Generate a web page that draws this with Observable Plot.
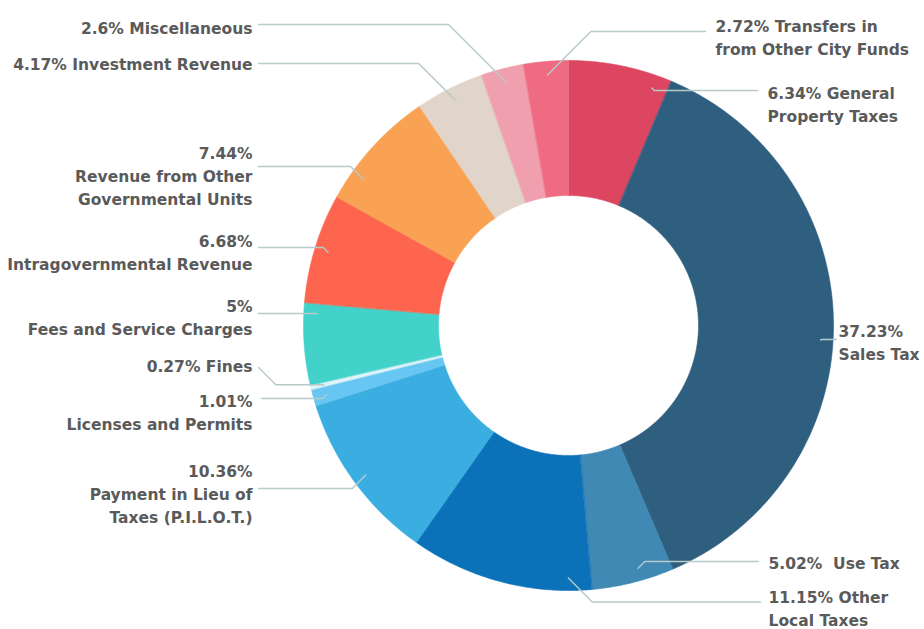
<!DOCTYPE html>
<html><head><meta charset="utf-8">
<script src="https://cdn.jsdelivr.net/npm/d3@7"></script>
<script src="https://cdn.jsdelivr.net/npm/@observablehq/plot@0.6"></script>
<style>body{margin:0;background:#fff;overflow:hidden}</style>
</head><body><div id="chart"></div>
<script>
// ---- data ----
const categories = ["General Property Taxes","Sales Tax","Use Tax","Other Local Taxes","Payment in Lieu of Taxes (P.I.L.O.T.)","Licenses and Permits","Fines","Fees and Service Charges","Intragovernmental Revenue","Revenue from Other Governmental Units","Investment Revenue","Miscellaneous","Transfers in from Other City Funds"];
const shares = [6.34, 37.23, 5.02, 11.15, 10.36, 1.01, 0.27, 5, 6.68, 7.44, 4.17, 2.6, 2.72];
const labelTexts = ["6.34% General\nProperty Taxes","37.23%\nSales Tax","5.02%  Use Tax","11.15% Other\nLocal Taxes","10.36%\nPayment in Lieu of\nTaxes (P.I.L.O.T.)","1.01%\nLicenses and Permits","0.27% Fines","5%\nFees and Service Charges","6.68%\nIntragovernmental Revenue","7.44%\nRevenue from Other\nGovernmental Units","4.17% Investment Revenue","2.6% Miscellaneous","2.72% Transfers in\nfrom Other City Funds"];
const colors = ["#dc4660","#2f5f7f","#3f89b4","#0b72b9","#3aaee0","#67c6f2","#dff3fa","#42d2c9","#fe654f","#f9a253","#e1d5cb","#ef9fae","#ef6b82"];

// ---- layout (label placement) ----
const W = 924, H = 629;
const cx = 568.5, cy = 325.5, rInner = 130, rOuter = 265, rAnchor = 252;
const layout = [
  {side:"right", tx:767, ty:82,  lx:757, ly:90,  frac:0.84},
  {side:"right", tx:838, ty:320, lx:836, ly:339, frac:0.525},
  {side:"right", tx:768, ty:552, lx:758, ly:561, frac:0.4},
  {side:"right", tx:768, ty:586, lx:760, ly:601.5, frac:0.13},
  {side:"left",  tx:252, ty:460, lx:258, ly:488, frac:0.5},
  {side:"left",  tx:252, ty:390, lx:261, ly:398, frac:0.5},
  {side:"left",  tx:252, ty:355, lx:258, ly:367, frac:0.5, diagFirst:true},
  {side:"left",  tx:252, ty:295, lx:258, ly:313, frac:0.87},
  {side:"left",  tx:252, ty:230, lx:258, ly:247, frac:0.5},
  {side:"left",  tx:252, ty:142, lx:258, ly:166, frac:0.24},
  {side:"left",  tx:252, ty:53,  lx:258, ly:63,  frac:0.5},
  {side:"left",  tx:252, ty:17,  lx:258, ly:24,  frac:0.5},
  {side:"right", tx:715, ty:15,  lx:705, ly:31,  frac:0.5}
];

// ---- derived geometry ----
const total = d3.sum(shares);
let acc = 0;
const slices = shares.map((v, i) => {
  const a0 = acc / total * 2 * Math.PI; acc += v;
  const a1 = acc / total * 2 * Math.PI;
  return {name: categories[i], a0, a1};
});
const ringPts = slices.flatMap(s => {
  const n = Math.max(2, Math.ceil((s.a1 - s.a0) / 0.01));
  return d3.range(n + 1).map(k => {
    const a = s.a0 + (s.a1 - s.a0) * k / n;
    return {name: s.name,
      ox: cx + rOuter * Math.sin(a), oy: cy - rOuter * Math.cos(a),
      ix: cx + rInner * Math.sin(a), iy: cy - rInner * Math.cos(a)};
  });
});
const leaderPts = slices.flatMap((s, i) => {
  const L = layout[i];
  const a = s.a0 + L.frac * (s.a1 - s.a0);
  const ax = cx + rAnchor * Math.sin(a), ay = cy - rAnchor * Math.cos(a);
  const d = Math.abs(ay - L.ly);
  let pts;
  if (L.diagFirst) pts = [[L.lx, L.ly], [L.lx + d, ay], [ax, ay]];
  else if (L.side === "left") pts = [[L.lx, L.ly], [Math.max(L.lx, ax - d), L.ly], [ax, ay]];
  else pts = [[L.lx, L.ly], [Math.min(L.lx, ax + d), L.ly], [ax, ay]];
  return pts.map(([x, y]) => ({id: i, x, y}));
});
const labels = layout.map((L, i) => ({...L, text: labelTexts[i]}));

const textStyle = {fontSize: 15.5, fontWeight: 700, fill: "#5a5a5a", lineAnchor: "top", lineHeight: 1.48, fontFamily: "DejaVu Sans"};

const chart = Plot.plot({
  width: W, height: H, margin: 0,
  style: {background: "#fff", overflow: "hidden"},
  x: {type: "linear", domain: [0, W], range: [0, W], axis: null},
  y: {type: "linear", domain: [0, H], range: [0, H], axis: null},
  color: {domain: categories, range: colors},
  marks: [
    Plot.area(ringPts, {x1: "ox", y1: "oy", x2: "ix", y2: "iy", z: "name", fill: "name", stroke: "name", strokeWidth: 0.6}),
    Plot.line(leaderPts, {x: "x", y: "y", z: "id", stroke: "#b6caca", strokeWidth: 1.4, curve: "linear"}),
    Plot.text(labels.filter(d => d.side === "left"), {x: "tx", y: "ty", text: "text", textAnchor: "end", ...textStyle}),
    Plot.text(labels.filter(d => d.side === "right"), {x: "tx", y: "ty", text: "text", textAnchor: "start", ...textStyle})
  ]
});
document.getElementById("chart").appendChild(chart);
</script>
</body></html>
